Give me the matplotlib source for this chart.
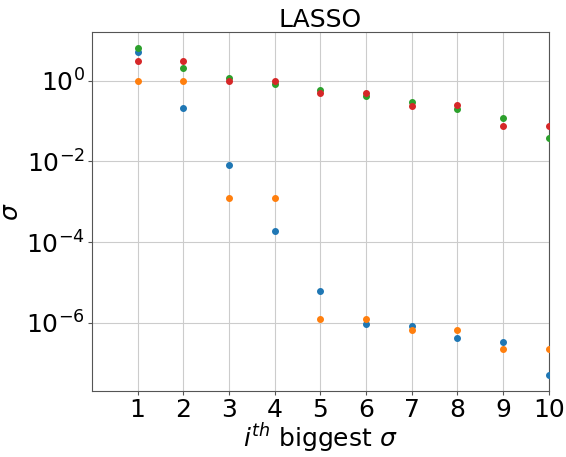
import matplotlib
matplotlib.use("Agg")
import matplotlib.pyplot as plt
import numpy as np

# singular values per run, sorted largest first
rank = np.arange(1, 11)
sigma_blue = [5.1, 0.21, 8.1e-3, 1.87e-4, 6.2e-6, 9.3e-7, 8.4e-7, 4.1e-7, 3.4e-7, 5.2e-8]
sigma_orange = [1.0, 1.0, 1.24e-3, 1.24e-3, 1.28e-6, 1.28e-6, 6.7e-7, 6.7e-7, 2.2e-7, 2.2e-7]
sigma_green = [6.3, 2.05, 1.19, 0.80, 0.576, 0.41, 0.30, 0.196, 0.12, 0.038]
sigma_red = [3.0, 3.0, 0.96, 0.98, 0.486, 0.486, 0.24, 0.245, 0.077, 0.077]

fig = plt.figure(figsize=(5.66, 4.57), dpi=100)
ax = fig.add_axes([0.1625, 0.1444, 0.807, 0.7856])

for vals, col in [(sigma_blue, "tab:blue"), (sigma_orange, "tab:orange"),
                  (sigma_green, "tab:green"), (sigma_red, "tab:red")]:
    ax.scatter(rank, vals, s=16, color=col, zorder=3)

ax.set_yscale("log")
ax.set_xlim(0, 10)
ax.set_xticks(rank)
ax.set_yticks([1e0, 1e-2, 1e-4, 1e-6])
ax.minorticks_off()
ax.grid(True, color="#cccccc", linewidth=0.8)
ax.set_axisbelow(True)
for sp in ax.spines.values():
    sp.set_color("#555555")
ax.tick_params(labelsize=18, length=3, pad=2, color="#555555")

ax.set_title("LASSO", fontsize=18, pad=3)
ax.set_xlabel(r"$i^{th}$ biggest $\sigma$", fontsize=18, labelpad=0)
ax.set_ylabel(r"$\sigma$", fontsize=18, labelpad=2)

fig.savefig("out.png", dpi=100)
